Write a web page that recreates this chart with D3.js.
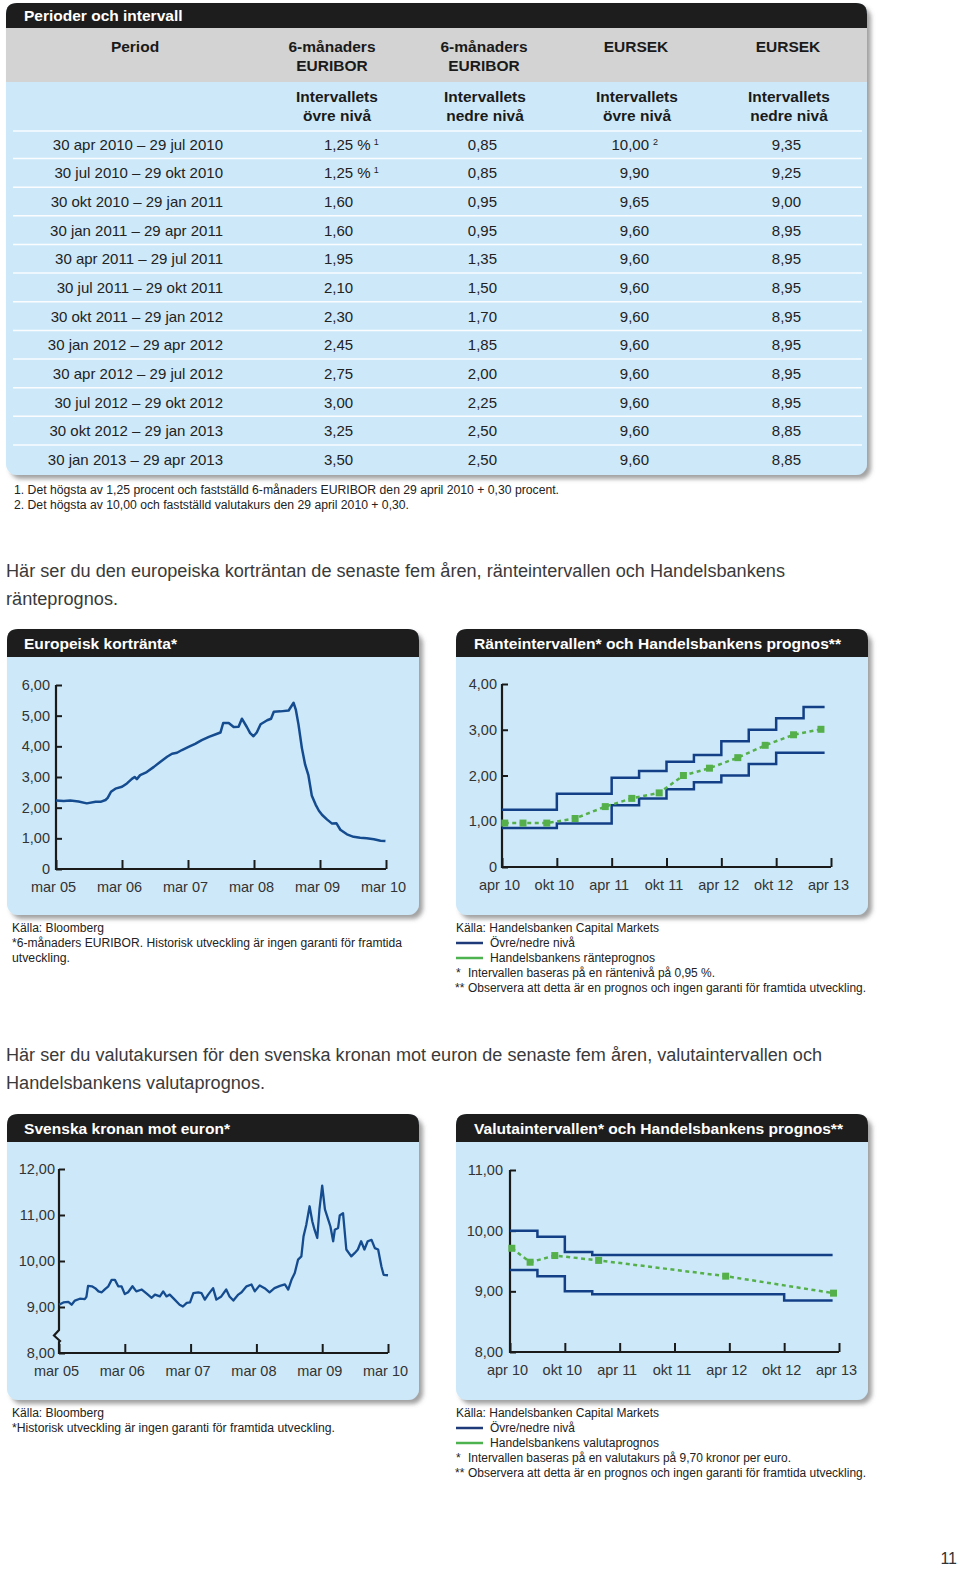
<!DOCTYPE html>
<html><head><meta charset="utf-8">
<script src="https://cdn.jsdelivr.net/npm/d3@7/dist/d3.min.js"></script>
<style>
html,body{margin:0;padding:0;background:#fff;}
svg{display:block;}
</style></head>
<body>
<svg id="page" width="960" height="1569"></svg>
<script>
// ================= DATA =================
const tableTitle = "Perioder och intervall";
const headerLines = [["Period"],["6-månaders","EURIBOR"],["6-månaders","EURIBOR"],["EURSEK"],["EURSEK"]];
const subHeaderLines = [[],["Intervallets","övre nivå"],["Intervallets","nedre nivå"],["Intervallets","övre nivå"],["Intervallets","nedre nivå"]];
const periods = [
 "30 apr 2010 – 29 jul 2010","30 jul 2010 – 29 okt 2010","30 okt 2010 – 29 jan 2011","30 jan 2011 – 29 apr 2011",
 "30 apr 2011 – 29 jul 2011","30 jul 2011 – 29 okt 2011","30 okt 2011 – 29 jan 2012","30 jan 2012 – 29 apr 2012",
 "30 apr 2012 – 29 jul 2012","30 jul 2012 – 29 okt 2012","30 okt 2012 – 29 jan 2013","30 jan 2013 – 29 apr 2013"];
const euriborUpper = [1.25,1.25,1.60,1.60,1.95,2.10,2.30,2.45,2.75,3.00,3.25,3.50];
const euriborLower = [0.85,0.85,0.95,0.95,1.35,1.50,1.70,1.85,2.00,2.25,2.50,2.50];
const eursekUpper  = [10.00,9.90,9.65,9.60,9.60,9.60,9.60,9.60,9.60,9.60,9.60,9.60];
const eursekLower  = [9.35,9.25,9.00,8.95,8.95,8.95,8.95,8.95,8.95,8.95,8.85,8.85];
const euriborUpperSuffix = [" %"," %","","","","","","","","","",""];
const euriborUpperNote = ["1","1","","","","","","","","","",""];
const eursekUpperNote  = ["2","","","","","","","","","","",""];
const tableFootnotes = [
 "1. Det högsta av 1,25 procent och fastställd 6-månaders EURIBOR den 29 april 2010 + 0,30 procent.",
 "2. Det högsta av 10,00 och fastställd valutakurs den 29 april 2010 + 0,30."];

const para1 = ["Här ser du den europeiska korträntan de senaste fem åren, ränteintervallen och Handelsbankens","ränteprognos."];
const para2 = ["Här ser du valutakursen för den svenska kronan mot euron de senaste fem åren, valutaintervallen och","Handelsbankens valutaprognos."];

// Historical charts: x = months since mar 05
const histTickMonths = [0,12,24,36,48,60];
const histTickLabels = ["mar 05","mar 06","mar 07","mar 08","mar 09","mar 10"];
const euriborMonths = [0,1.4,2.6,4.1,5.6,7.2,8.1,9.0,9.4,10.0,10.8,12.0,12.9,13.8,14.3,14.7,15.3,16.5,17.8,19.0,20.2,21.1,22.0,22.9,24.1,25.3,26.5,27.8,29.3,29.9,30.4,31.4,32.3,33.2,33.8,34.7,35.3,35.9,36.5,37.2,38.4,39.1,39.6,40.8,42.3,43.2,43.6,44.1,44.7,45.3,45.9,46.5,47.2,47.8,48.4,49.3,50.2,51.0,51.7,52.9,54.1,55.3,56.5,57.8,59.0,59.9];
const euriborValues = [2.23,2.22,2.23,2.20,2.14,2.19,2.19,2.25,2.32,2.52,2.62,2.68,2.79,2.94,3.00,2.93,3.06,3.16,3.33,3.50,3.66,3.76,3.79,3.88,3.98,4.08,4.20,4.31,4.41,4.45,4.76,4.76,4.63,4.64,4.90,4.63,4.43,4.33,4.45,4.72,4.85,4.90,5.13,5.14,5.17,5.42,5.20,4.70,3.95,3.40,3.05,2.40,2.10,1.90,1.76,1.61,1.48,1.49,1.28,1.13,1.05,1.02,1.00,0.97,0.92,0.91];
const eursekMonths = [0,0.8,1.7,2.3,2.9,3.8,4.7,5.0,5.3,6.0,6.6,7.2,7.8,8.4,9.0,9.6,10.2,10.8,11.4,12.0,12.6,13.4,14.1,15.1,16.0,16.9,17.5,18.4,19.0,19.6,20.2,21.1,22.0,22.6,23.3,23.9,24.5,25.4,26.0,26.6,27.2,28.1,28.7,29.6,30.5,31.1,31.8,32.7,33.3,34.2,35.1,35.7,36.6,37.5,38.4,39.3,40.3,41.2,41.8,42.4,43.0,43.6,44.2,44.6,45.1,45.7,46.2,46.6,47.1,47.5,48.0,48.5,49.1,49.5,50.0,50.3,50.9,51.2,51.8,52.4,53.3,53.9,54.5,55.1,55.7,56.3,57.0,57.6,58.2,58.8,59.2,60.0];
const eursekValues = [9.05,9.10,9.11,9.05,9.14,9.18,9.17,9.22,9.46,9.45,9.41,9.34,9.32,9.39,9.45,9.59,9.59,9.45,9.45,9.28,9.32,9.45,9.34,9.38,9.29,9.20,9.27,9.23,9.34,9.23,9.27,9.16,9.05,9.01,9.09,9.10,9.30,9.32,9.30,9.16,9.27,9.41,9.16,9.23,9.38,9.23,9.14,9.27,9.32,9.45,9.49,9.34,9.47,9.41,9.32,9.41,9.46,9.49,9.38,9.59,9.74,10.03,10.10,10.54,10.79,11.19,10.86,10.68,10.50,11.12,11.64,11.12,10.90,10.75,10.43,10.68,10.72,10.99,11.04,10.25,10.10,10.17,10.25,10.43,10.25,10.43,10.46,10.28,10.25,9.88,9.70,9.69];

// Forecast charts: x = months since 30 apr 2010
const fcTickMonths = [0,6,12,18,24,30,36];
const fcTickLabels = ["apr 10","okt 10","apr 11","okt 11","apr 12","okt 12","apr 13"];
const periodStartMonths = [0,3,6,9,12,15,18,21,24,27,30,33];
const periodEndMonth = 35.3;
const rateForecastMonths = [0.3,2.3,4.9,8.0,11.3,14.2,17.2,19.85,22.7,25.8,28.8,31.9,34.9];
const rateForecastValues = [0.96,0.96,0.96,1.06,1.32,1.50,1.62,2.00,2.16,2.39,2.66,2.89,3.01];
const fxForecastMonths = [0.2,2.2,4.9,9.7,23.6,35.4];
const fxForecastValues = [9.71,9.48,9.59,9.51,9.25,8.97];

const chartTitles = ["Europeisk kortränta*","Ränteintervallen* och Handelsbankens prognos**","Svenska kronan mot euron*","Valutaintervallen* och Handelsbankens prognos**"];
const notes1 = ["Källa: Bloomberg","*6-månaders EURIBOR. Historisk utveckling är ingen garanti för framtida","utveckling."];
const notes2 = ["Källa: Handelsbanken Capital Markets","Övre/nedre nivå","Handelsbankens ränteprognos","Intervallen baseras på en räntenivå på 0,95 %.","Observera att detta är en prognos och ingen garanti för framtida utveckling."];
const notes3 = ["Källa: Bloomberg","*Historisk utveckling är ingen garanti för framtida utveckling."];
const notes4 = ["Källa: Handelsbanken Capital Markets","Övre/nedre nivå","Handelsbankens valutaprognos","Intervallen baseras på en valutakurs på 9,70 kronor per euro.","Observera att detta är en prognos och ingen garanti för framtida utveckling."];
const pageNumber = "11";

// ================= STYLE =================
const FONT = "'Liberation Sans', Arial, Helvetica, sans-serif";
const BLUE_BG = "#cde9f9", GRAY_BG = "#d3d3d3", BLACK = "#1d1d1d";
const LINE_BLUE = "#154b8f", STEP_BLUE = "#133f87", GREEN = "#55b04b";
const AXIS = "#1a1a1a", TXT = "#333";

const svg = d3.select("#page");
const defs = svg.append("defs");
const flt = defs.append("filter").attr("id","sh").attr("x","-5%").attr("y","-5%").attr("width","115%").attr("height","115%");
flt.append("feDropShadow").attr("dx",4).attr("dy",4).attr("stdDeviation",2).attr("flood-color","#555").attr("flood-opacity",0.55);

const fmt2 = v => d3.format(".2f")(v).replace(".", ",");

function txt(x, y, s, o = {}) {
  const t = svg.append("text").attr("x", x).attr("y", y).text(s)
    .attr("font-family", FONT).attr("font-size", o.size || 12)
    .attr("fill", o.fill || TXT).attr("text-anchor", o.anchor || "start");
  if (o.bold) t.attr("font-weight", "bold");
  if (o.w) t.attr("textLength", o.w).attr("lengthAdjust", "spacingAndGlyphs");
  return t;
}

function panel(x, y, w, h, hh, title, tx, tw) {
  const r = 11;
  svg.append("rect").attr("x", x).attr("y", y).attr("width", w).attr("height", h)
    .attr("rx", r).attr("fill", BLUE_BG).attr("filter", "url(#sh)");
  svg.append("path").attr("d", `M${x},${y+hh}V${y+r}Q${x},${y} ${x+r},${y}H${x+w-r}Q${x+w},${y} ${x+w},${y+r}V${y+hh}Z`)
    .attr("fill", BLACK);
  txt(tx, y + hh/2 + 5.5, title, {size: 15.5, bold: true, fill: "#fff", w: tw});
}

// ================= TABLE =================
(function table(){
  const X = 6, Y = 3, W = 861, H = 472, HH = 25;
  const r = 11;
  svg.append("rect").attr("x", X).attr("y", Y).attr("width", W).attr("height", H)
    .attr("rx", r).attr("fill", BLUE_BG).attr("filter", "url(#sh)");
  svg.append("rect").attr("x", X).attr("y", Y + HH).attr("width", W).attr("height", 54).attr("fill", GRAY_BG);
  svg.append("path").attr("d", `M${X},${Y+HH}V${Y+r}Q${X},${Y} ${X+r},${Y}H${X+W-r}Q${X+W},${Y} ${X+W},${Y+r}V${Y+HH}Z`).attr("fill", BLACK);
  txt(24, 21, tableTitle, {size: 15.5, bold: true, fill: "#fff"});

  const colC = [135, 332, 484, 636, 788];
  headerLines.forEach((lines, i) => lines.forEach((s, j) =>
    txt(colC[i], 52 + j*19, s, {size: 15.5, bold: true, fill: "#1a1a1a", anchor: "middle"})));
  subHeaderLines.forEach((lines, i) => lines.forEach((s, j) =>
    txt(colC[i] + (i === 1 ? 5 : 1), 102 + j*19, s, {size: 15.5, bold: true, fill: "#1a1a1a", anchor: "middle"})));

  // separator lines
  const rowC = i => 144.5 + i * 28.65;
  const seps = [131].concat(d3.range(11).map(k => 158.5 + k * 28.65));
  svg.selectAll(null).data(seps).enter().append("line")
    .attr("x1", 13).attr("x2", 862).attr("y1", d => d).attr("y2", d => d)
    .attr("stroke", "#fff").attr("stroke-width", 1.5).attr("opacity", 0.9);

  periods.forEach((p, i) => {
    const by = rowC(i) + 5.2;
    txt(223, by, p, {size: 15, fill: "#222", anchor: "end"});
    const t2 = txt(324, by, fmt2(euriborUpper[i]) + euriborUpperSuffix[i], {size: 15, fill: "#222"});
    if (euriborUpperNote[i]) {
      const w = t2.node().getComputedTextLength();
      txt(324 + w + 3, by - 5, euriborUpperNote[i], {size: 9, fill: "#222"});
    }
    txt(497, by, fmt2(euriborLower[i]), {size: 15, fill: "#222", anchor: "end"});
    txt(649, by, fmt2(eursekUpper[i]), {size: 15, fill: "#222", anchor: "end"});
    if (eursekUpperNote[i]) txt(653, by - 5, eursekUpperNote[i], {size: 9, fill: "#222"});
    txt(801, by, fmt2(eursekLower[i]), {size: 15, fill: "#222", anchor: "end"});
  });

  txt(14, 494, tableFootnotes[0], {size: 12, fill: "#222", w: 545});
  txt(14, 509, tableFootnotes[1], {size: 12, fill: "#222", w: 395});
})();

// ================= PARAGRAPHS =================
txt(6, 577, para1[0], {size: 18, fill: "#3a3a3a", w: 779});
txt(6, 605, para1[1], {size: 18, fill: "#3a3a3a", w: 112});
txt(6, 1061, para2[0], {size: 18, fill: "#3a3a3a", w: 816});
txt(6, 1089, para2[1], {size: 18, fill: "#3a3a3a", w: 259});

// ================= CHARTS =================
function chart(cfg) {
  const x = d3.scaleLinear().domain(cfg.xDomain).range([cfg.x0, cfg.x1]);
  const y = d3.scaleLinear().domain(cfg.yDomain).range([cfg.y0, cfg.y1]);
  const g = svg.append("g");

  // y ticks & labels
  const ya = g.append("g").attr("transform", `translate(${cfg.x0},0)`)
    .call(d3.axisLeft(y).tickValues(cfg.yTicks).tickSize(-6).tickSizeOuter(0).tickPadding(cfg.yPad)
      .tickFormat(v => (v === 0 ? "0" : fmt2(v))));
  ya.select(".domain").remove();
  ya.attr("font-family", FONT).attr("font-size", 14.5);
  ya.selectAll("line").attr("stroke", AXIS).attr("stroke-width", 2);
  ya.selectAll("text").attr("fill", TXT);

  // x ticks & labels
  const xa = g.append("g").attr("transform", `translate(0,${cfg.y0})`)
    .call(d3.axisBottom(x).tickValues(cfg.xTicks).tickSize(-9).tickSizeOuter(0)
      .tickFormat((d, i) => cfg.xLabels[i]));
  xa.select(".domain").remove();
  xa.attr("font-family", FONT).attr("font-size", 14.5);
  xa.selectAll("line").attr("stroke", AXIS).attr("stroke-width", 2);
  xa.selectAll("text").attr("fill", TXT).attr("x", -3).attr("y", 12.5);

  // axis frame
  const top = y(cfg.yDomain[1]);
  let d;
  if (cfg.axisBreak) {
    const b = cfg.axisBreak;
    d = `M${cfg.x0},${top}V${y(b[0])}L${cfg.x0 - 5},${y(b[1])}L${cfg.x0 + 1},${y(b[2])}L${cfg.x0},${y(b[2]) + 1}V${cfg.y0}H${cfg.x1}`;
  } else {
    d = `M${cfg.x0},${top}V${cfg.y0}H${cfg.x1}`;
  }
  g.append("path").attr("d", d).attr("fill", "none").attr("stroke", AXIS).attr("stroke-width", 2.2).attr("stroke-linejoin", "miter");

  cfg.draw(g, x, y);
}

const line = (x, y, curve) => d3.line().x(d => x(d[0])).y(d => y(d[1])).curve(curve || d3.curveLinear);

function stepSeries(values) {
  const pts = periodStartMonths.map((m, i) => [m, values[i]]);
  pts.push([periodEndMonth, values[values.length - 1]]);
  return pts;
}

function forecast(g, x, y, months, values) {
  const pts = months.map((m, i) => [m, values[i]]);
  g.append("path").attr("d", line(x, y)(pts)).attr("fill", "none").attr("stroke", GREEN)
    .attr("stroke-width", 2.5).attr("stroke-dasharray", "4,3.5");
  g.selectAll(null).data(pts).enter().append("rect")
    .attr("x", d => x(d[0]) - 3.5).attr("y", d => y(d[1]) - 3.5)
    .attr("width", 7).attr("height", 7).attr("fill", GREEN);
}

// Chart 1
panel(7, 629, 412, 286, 28, chartTitles[0], 24, 153);
chart({
  x0: 56, x1: 386, y0: 869, y1: 685, xDomain: [0, 60], yDomain: [0, 6],
  yTicks: [0,1,2,3,4,5,6], yPad: 6, xTicks: histTickMonths, xLabels: histTickLabels,
  draw: (g, x, y) => {
    g.append("path").attr("d", line(x, y)(euriborMonths.map((m, i) => [m, euriborValues[i]])))
      .attr("fill", "none").attr("stroke", LINE_BLUE).attr("stroke-width", 2.5).attr("stroke-linejoin", "round");
  }
});

// Chart 2
panel(456, 629, 412, 286, 28, chartTitles[1], 474, 367);
chart({
  x0: 502, x1: 831, y0: 867, y1: 684, xDomain: [0, 36], yDomain: [0, 4],
  yTicks: [0,1,2,3,4], yPad: 5, xTicks: fcTickMonths, xLabels: fcTickLabels,
  draw: (g, x, y) => {
    [euriborUpper, euriborLower].forEach(v =>
      g.append("path").attr("d", line(x, y, d3.curveStepAfter)(stepSeries(v)))
        .attr("fill", "none").attr("stroke", STEP_BLUE).attr("stroke-width", 2.5));
    forecast(g, x, y, rateForecastMonths, rateForecastValues);
  }
});

// Chart 3
panel(7, 1114, 412, 286, 28, chartTitles[2], 24, 206);
chart({
  x0: 59, x1: 388, y0: 1353, y1: 1169, xDomain: [0, 60], yDomain: [8, 12],
  yTicks: [8,9,10,11,12], yPad: 4, xTicks: histTickMonths, xLabels: histTickLabels,
  axisBreak: [8.5, 8.38, 8.26],
  draw: (g, x, y) => {
    g.append("path").attr("d", line(x, y)(eursekMonths.map((m, i) => [m, eursekValues[i]])))
      .attr("fill", "none").attr("stroke", LINE_BLUE).attr("stroke-width", 2.3).attr("stroke-linejoin", "round");
  }
});

// Chart 4
panel(456, 1114, 412, 286, 28, chartTitles[3], 474, 369);
chart({
  x0: 510, x1: 839, y0: 1352, y1: 1170, xDomain: [0, 36], yDomain: [8, 11],
  yTicks: [8,9,10,11], yPad: 7, xTicks: fcTickMonths, xLabels: fcTickLabels,
  draw: (g, x, y) => {
    [eursekUpper, eursekLower].forEach(v =>
      g.append("path").attr("d", line(x, y, d3.curveStepAfter)(stepSeries(v)))
        .attr("fill", "none").attr("stroke", STEP_BLUE).attr("stroke-width", 2.5));
    forecast(g, x, y, fxForecastMonths, fxForecastValues);
  }
});

// ================= NOTES =================
function histNotes(y0, notes, widths) {
  notes.forEach((s, i) => txt(12, y0 + i * 15, s, {size: 12, fill: "#222", w: widths[i]}));
}
function fcNotes(y0, notes, widths) {
  txt(456, y0, notes[0], {size: 12, fill: "#222", w: widths[0]});
  svg.append("line").attr("x1", 456).attr("x2", 483).attr("y1", y0 + 11).attr("y2", y0 + 11)
    .attr("stroke", "#1f3a78").attr("stroke-width", 2.5);
  txt(490, y0 + 15, notes[1], {size: 12, fill: "#222", w: widths[1]});
  svg.append("line").attr("x1", 456).attr("x2", 483).attr("y1", y0 + 26).attr("y2", y0 + 26)
    .attr("stroke", "#4db34f").attr("stroke-width", 2.5);
  txt(490, y0 + 30, notes[2], {size: 12, fill: "#222", w: widths[2]});
  txt(456, y0 + 45, "*", {size: 12, fill: "#222"});
  txt(468, y0 + 45, notes[3], {size: 12, fill: "#222", w: widths[3]});
  txt(455, y0 + 60, "**", {size: 12, fill: "#222"});
  txt(468, y0 + 60, notes[4], {size: 12, fill: "#222", w: widths[4]});
}
histNotes(932, notes1, [92, 390, 58]);
fcNotes(932, notes2, [203, 85, 165, 247, 398]);
histNotes(1417, notes3, [92, 323]);
fcNotes(1417, notes4, [203, 85, 169, 323, 398]);

txt(957, 1564, pageNumber, {size: 16, fill: "#333", anchor: "end"});
</script>
</body></html>
